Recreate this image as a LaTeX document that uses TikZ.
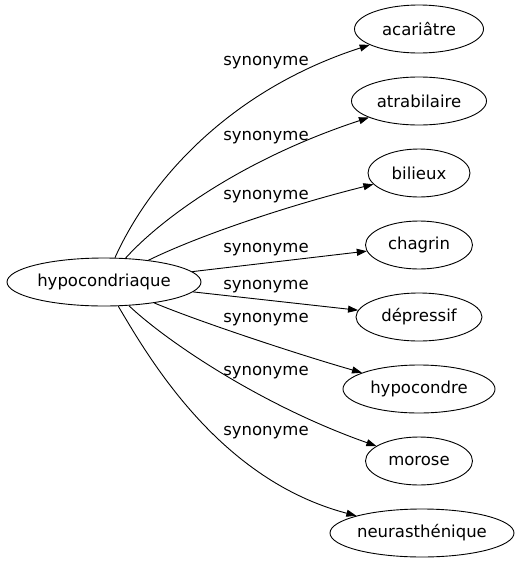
\documentclass[tikz,border=0pt]{standalone}
\usepackage{fontspec}
\setmainfont{DejaVu Sans}
\usetikzlibrary{shapes,arrows.meta}

\begin{document}
\begin{tikzpicture}[x=1pt,y=-1pt,line width=0.9pt,
  every ellipse node/.append style={draw,minimum height=48pt,inner sep=0pt}]
  \tikzstyle{word} = [ellipse,font=\fontsize{16.5}{19}\selectfont,color=black]
  \tikzstyle{rel} = [font=\fontsize{16.5}{19}\selectfont,color=black]
  \tikzstyle{syn} = [-{Triangle[length=10pt,width=7pt]}]
  \useasboundingbox (0,0) rectangle (518,563);
  \node (1_1) at (104,282) [word,minimum width=194pt] {hypocondriaque};
  \node (1_2) at (419,29)  [word,minimum width=129pt] {acariâtre};
  \node (1_3) at (419,101) [word,minimum width=135pt] {atrabilaire};
  \node (1_4) at (419,173) [word,minimum width=102pt] {bilieux};
  \node (1_5) at (419,245) [word,minimum width=107pt] {chagrin};
  \node (1_6) at (419,317) [word,minimum width=126pt] {dépressif};
  \node (1_7) at (419,389) [word,minimum width=152pt] {hypocondre};
  \node (1_8) at (419,461) [word,minimum width=107pt] {morose};
  \node (1_9) at (422,533) [word,minimum width=184pt] {neurasthénique};
  \draw[syn] (1_1) .. controls (150,180) and (230,90) .. (1_2);
  \draw[syn] (1_1) .. controls (160,220) and (240,160) .. (1_3);
  \draw[syn] (1_1) .. controls (200,235) and (290,205) .. (1_4);
  \draw[syn] (1_1) -- (1_5);
  \draw[syn] (1_1) -- (1_6);
  \draw[syn] (1_1) .. controls (200,322) and (300,355) .. (1_7);
  \draw[syn] (1_1) .. controls (165,340) and (260,405) .. (1_8);
  \draw[syn] (1_1) .. controls (150,360) and (220,480) .. (1_9);
  \node (l_2) at (266,63)  [rel] {synonyme};
  \node (l_3) at (266,138) [rel] {synonyme};
  \node (l_4) at (266,197) [rel] {synonyme};
  \node (l_5) at (266,250) [rel] {synonyme};
  \node (l_6) at (266,287) [rel] {synonyme};
  \node (l_7) at (266,320) [rel] {synonyme};
  \node (l_8) at (266,373) [rel] {synonyme};
  \node (l_9) at (266,433) [rel] {synonyme};
\end{tikzpicture}
\end{document}
